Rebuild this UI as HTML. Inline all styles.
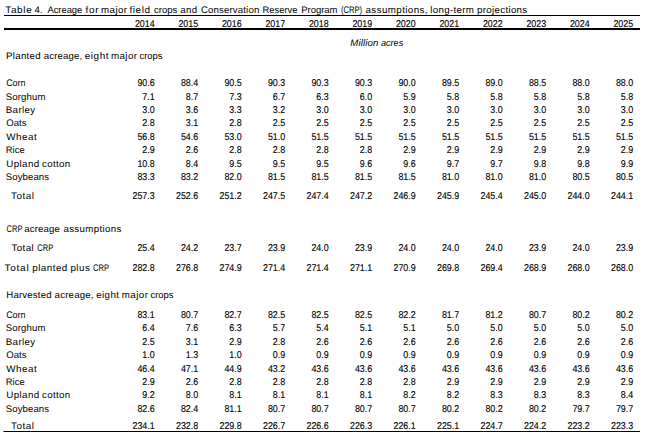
<!DOCTYPE html>
<html><head><meta charset="utf-8"><style>
html,body{margin:0;padding:0;background:#fff;width:646px;height:440px;overflow:hidden}
svg{display:block;text-rendering:geometricPrecision}
.t{font-family:"Liberation Sans",sans-serif;font-size:9.5px;fill:#000;stroke:#000;stroke-width:0.0px}
.n{font-family:"Liberation Sans",sans-serif;font-size:9.9px;fill:#000;stroke:#000;stroke-width:0.12px}
.i{font-family:"Liberation Sans",sans-serif;font-size:9.5px;font-style:italic;fill:#000;stroke:#000;stroke-width:0.0px}
</style></head><body>
<svg width="646" height="440" viewBox="0 0 646 440">
<rect x="4" y="15" width="636" height="1" fill="#000"/><rect x="4" y="28" width="636" height="2" fill="#000"/><rect x="3.4" y="431" width="636.6" height="1" fill="#000"/>
<text transform="translate(5.26,12.70) scale(1.0478,1)" class="t" textLength="25.32" lengthAdjust="spacing">Table</text>
<text transform="translate(34.54,12.70) scale(1.0067,1)" class="t" textLength="8.05" lengthAdjust="spacing">4.</text>
<text x="47.40" y="12.70" class="t" textLength="34.91" lengthAdjust="spacingAndGlyphs">Acreage</text>
<text transform="translate(85.60,12.70) scale(1.0513,1)" class="t" textLength="12.46" lengthAdjust="spacing">for</text>
<text transform="translate(101.09,12.70) scale(1.0262,1)" class="t" textLength="25.23" lengthAdjust="spacing">major</text>
<text transform="translate(129.38,12.70) scale(1.0524,1)" class="t" textLength="19.63" lengthAdjust="spacing">field</text>
<text transform="translate(153.92,12.70) scale(1.0021,1)" class="t" textLength="23.34" lengthAdjust="spacing">crops</text>
<text transform="translate(180.33,12.70) scale(1.0189,1)" class="t" textLength="16.56" lengthAdjust="spacing">and</text>
<text transform="translate(200.97,12.70) scale(1.0122,1)" class="t" textLength="57.58" lengthAdjust="spacing">Conservation</text>
<text x="262.50" y="12.70" class="t" textLength="34.93" lengthAdjust="spacingAndGlyphs">Reserve</text>
<text x="301.22" y="12.70" class="t" textLength="36.29" lengthAdjust="spacingAndGlyphs">Program</text>
<text x="340.89" y="12.70" class="t" textLength="21.14" lengthAdjust="spacingAndGlyphs">(CRP)</text>
<text transform="translate(365.52,12.70) scale(1.0314,1)" class="t" textLength="60.15" lengthAdjust="spacing">assumptions,</text>
<text transform="translate(430.36,12.70) scale(1.0240,1)" class="t" textLength="42.40" lengthAdjust="spacing">long-term</text>
<text transform="translate(477.02,12.70) scale(1.0269,1)" class="t" textLength="48.88" lengthAdjust="spacing">projections</text>
<text transform="translate(154.70,26.80) scale(0.9,1)" class="n" text-anchor="end">2014</text>
<text transform="translate(198.20,26.80) scale(0.9,1)" class="n" text-anchor="end">2015</text>
<text transform="translate(241.70,26.80) scale(0.9,1)" class="n" text-anchor="end">2016</text>
<text transform="translate(285.20,26.80) scale(0.9,1)" class="n" text-anchor="end">2017</text>
<text transform="translate(328.70,26.80) scale(0.9,1)" class="n" text-anchor="end">2018</text>
<text transform="translate(372.20,26.80) scale(0.9,1)" class="n" text-anchor="end">2019</text>
<text transform="translate(415.70,26.80) scale(0.9,1)" class="n" text-anchor="end">2020</text>
<text transform="translate(459.20,26.80) scale(0.9,1)" class="n" text-anchor="end">2021</text>
<text transform="translate(502.70,26.80) scale(0.9,1)" class="n" text-anchor="end">2022</text>
<text transform="translate(546.20,26.80) scale(0.9,1)" class="n" text-anchor="end">2023</text>
<text transform="translate(589.70,26.80) scale(0.9,1)" class="n" text-anchor="end">2024</text>
<text transform="translate(633.20,26.80) scale(0.9,1)" class="n" text-anchor="end">2025</text>
<text transform="translate(350.28,45.60) scale(1.0142,1)" class="i" textLength="27.82" lengthAdjust="spacing">Million</text>
<text x="380.98" y="45.60" class="i" textLength="22.22" lengthAdjust="spacingAndGlyphs">acres</text>
<text transform="translate(6.11,59.30) scale(1.0202,1)" class="t" textLength="33.76" lengthAdjust="spacing">Planted</text>
<text transform="translate(43.69,59.30) scale(1.0129,1)" class="t" textLength="38.10" lengthAdjust="spacing">acreage,</text>
<text transform="translate(84.75,59.30) scale(1.0441,1)" class="t" textLength="22.78" lengthAdjust="spacing">eight</text>
<text transform="translate(111.06,59.30) scale(1.0260,1)" class="t" textLength="25.22" lengthAdjust="spacing">major</text>
<text x="139.56" y="59.30" class="t" textLength="22.96" lengthAdjust="spacingAndGlyphs">crops</text>
<text x="6.15" y="86.20" class="t" textLength="19.41" lengthAdjust="spacingAndGlyphs">Corn</text>
<text transform="translate(154.70,86.20) scale(0.9,1)" class="n" text-anchor="end">90.6</text>
<text transform="translate(198.20,86.20) scale(0.9,1)" class="n" text-anchor="end">88.4</text>
<text transform="translate(241.70,86.20) scale(0.9,1)" class="n" text-anchor="end">90.5</text>
<text transform="translate(285.20,86.20) scale(0.9,1)" class="n" text-anchor="end">90.3</text>
<text transform="translate(328.70,86.20) scale(0.9,1)" class="n" text-anchor="end">90.3</text>
<text transform="translate(372.20,86.20) scale(0.9,1)" class="n" text-anchor="end">90.3</text>
<text transform="translate(415.70,86.20) scale(0.9,1)" class="n" text-anchor="end">90.0</text>
<text transform="translate(459.20,86.20) scale(0.9,1)" class="n" text-anchor="end">89.5</text>
<text transform="translate(502.70,86.20) scale(0.9,1)" class="n" text-anchor="end">89.0</text>
<text transform="translate(546.20,86.20) scale(0.9,1)" class="n" text-anchor="end">88.5</text>
<text transform="translate(589.70,86.20) scale(0.9,1)" class="n" text-anchor="end">88.0</text>
<text transform="translate(633.20,86.20) scale(0.9,1)" class="n" text-anchor="end">88.0</text>
<text transform="translate(5.75,99.90) scale(1.0089,1)" class="t" textLength="39.35" lengthAdjust="spacing">Sorghum</text>
<text transform="translate(154.70,99.90) scale(0.9,1)" class="n" text-anchor="end">7.1</text>
<text transform="translate(198.20,99.90) scale(0.9,1)" class="n" text-anchor="end">8.7</text>
<text transform="translate(241.70,99.90) scale(0.9,1)" class="n" text-anchor="end">7.3</text>
<text transform="translate(285.20,99.90) scale(0.9,1)" class="n" text-anchor="end">6.7</text>
<text transform="translate(328.70,99.90) scale(0.9,1)" class="n" text-anchor="end">6.3</text>
<text transform="translate(372.20,99.90) scale(0.9,1)" class="n" text-anchor="end">6.0</text>
<text transform="translate(415.70,99.90) scale(0.9,1)" class="n" text-anchor="end">5.9</text>
<text transform="translate(459.20,99.90) scale(0.9,1)" class="n" text-anchor="end">5.8</text>
<text transform="translate(502.70,99.90) scale(0.9,1)" class="n" text-anchor="end">5.8</text>
<text transform="translate(546.20,99.90) scale(0.9,1)" class="n" text-anchor="end">5.8</text>
<text transform="translate(589.70,99.90) scale(0.9,1)" class="n" text-anchor="end">5.8</text>
<text transform="translate(633.20,99.90) scale(0.9,1)" class="n" text-anchor="end">5.8</text>
<text transform="translate(5.77,112.80) scale(1.0266,1)" class="t" textLength="28.63" lengthAdjust="spacing">Barley</text>
<text transform="translate(154.70,112.80) scale(0.9,1)" class="n" text-anchor="end">3.0</text>
<text transform="translate(198.20,112.80) scale(0.9,1)" class="n" text-anchor="end">3.6</text>
<text transform="translate(241.70,112.80) scale(0.9,1)" class="n" text-anchor="end">3.3</text>
<text transform="translate(285.20,112.80) scale(0.9,1)" class="n" text-anchor="end">3.2</text>
<text transform="translate(328.70,112.80) scale(0.9,1)" class="n" text-anchor="end">3.0</text>
<text transform="translate(372.20,112.80) scale(0.9,1)" class="n" text-anchor="end">3.0</text>
<text transform="translate(415.70,112.80) scale(0.9,1)" class="n" text-anchor="end">3.0</text>
<text transform="translate(459.20,112.80) scale(0.9,1)" class="n" text-anchor="end">3.0</text>
<text transform="translate(502.70,112.80) scale(0.9,1)" class="n" text-anchor="end">3.0</text>
<text transform="translate(546.20,112.80) scale(0.9,1)" class="n" text-anchor="end">3.0</text>
<text transform="translate(589.70,112.80) scale(0.9,1)" class="n" text-anchor="end">3.0</text>
<text transform="translate(633.20,112.80) scale(0.9,1)" class="n" text-anchor="end">3.0</text>
<text transform="translate(6.23,125.80) scale(1.0015,1)" class="t" textLength="20.13" lengthAdjust="spacing">Oats</text>
<text transform="translate(154.70,125.80) scale(0.9,1)" class="n" text-anchor="end">2.8</text>
<text transform="translate(198.20,125.80) scale(0.9,1)" class="n" text-anchor="end">3.1</text>
<text transform="translate(241.70,125.80) scale(0.9,1)" class="n" text-anchor="end">2.8</text>
<text transform="translate(285.20,125.80) scale(0.9,1)" class="n" text-anchor="end">2.5</text>
<text transform="translate(328.70,125.80) scale(0.9,1)" class="n" text-anchor="end">2.5</text>
<text transform="translate(372.20,125.80) scale(0.9,1)" class="n" text-anchor="end">2.5</text>
<text transform="translate(415.70,125.80) scale(0.9,1)" class="n" text-anchor="end">2.5</text>
<text transform="translate(459.20,125.80) scale(0.9,1)" class="n" text-anchor="end">2.5</text>
<text transform="translate(502.70,125.80) scale(0.9,1)" class="n" text-anchor="end">2.5</text>
<text transform="translate(546.20,125.80) scale(0.9,1)" class="n" text-anchor="end">2.5</text>
<text transform="translate(589.70,125.80) scale(0.9,1)" class="n" text-anchor="end">2.5</text>
<text transform="translate(633.20,125.80) scale(0.9,1)" class="n" text-anchor="end">2.5</text>
<text transform="translate(6.26,140.00) scale(1.0306,1)" class="t" textLength="29.46" lengthAdjust="spacing">Wheat</text>
<text transform="translate(154.70,140.00) scale(0.9,1)" class="n" text-anchor="end">56.8</text>
<text transform="translate(198.20,140.00) scale(0.9,1)" class="n" text-anchor="end">54.6</text>
<text transform="translate(241.70,140.00) scale(0.9,1)" class="n" text-anchor="end">53.0</text>
<text transform="translate(285.20,140.00) scale(0.9,1)" class="n" text-anchor="end">51.0</text>
<text transform="translate(328.70,140.00) scale(0.9,1)" class="n" text-anchor="end">51.5</text>
<text transform="translate(372.20,140.00) scale(0.9,1)" class="n" text-anchor="end">51.5</text>
<text transform="translate(415.70,140.00) scale(0.9,1)" class="n" text-anchor="end">51.5</text>
<text transform="translate(459.20,140.00) scale(0.9,1)" class="n" text-anchor="end">51.5</text>
<text transform="translate(502.70,140.00) scale(0.9,1)" class="n" text-anchor="end">51.5</text>
<text transform="translate(546.20,140.00) scale(0.9,1)" class="n" text-anchor="end">51.5</text>
<text transform="translate(589.70,140.00) scale(0.9,1)" class="n" text-anchor="end">51.5</text>
<text transform="translate(633.20,140.00) scale(0.9,1)" class="n" text-anchor="end">51.5</text>
<text x="5.82" y="152.80" class="t" textLength="18.87" lengthAdjust="spacingAndGlyphs">Rice</text>
<text transform="translate(154.70,152.80) scale(0.9,1)" class="n" text-anchor="end">2.9</text>
<text transform="translate(198.20,152.80) scale(0.9,1)" class="n" text-anchor="end">2.6</text>
<text transform="translate(241.70,152.80) scale(0.9,1)" class="n" text-anchor="end">2.8</text>
<text transform="translate(285.20,152.80) scale(0.9,1)" class="n" text-anchor="end">2.8</text>
<text transform="translate(328.70,152.80) scale(0.9,1)" class="n" text-anchor="end">2.8</text>
<text transform="translate(372.20,152.80) scale(0.9,1)" class="n" text-anchor="end">2.8</text>
<text transform="translate(415.70,152.80) scale(0.9,1)" class="n" text-anchor="end">2.9</text>
<text transform="translate(459.20,152.80) scale(0.9,1)" class="n" text-anchor="end">2.9</text>
<text transform="translate(502.70,152.80) scale(0.9,1)" class="n" text-anchor="end">2.9</text>
<text transform="translate(546.20,152.80) scale(0.9,1)" class="n" text-anchor="end">2.9</text>
<text transform="translate(589.70,152.80) scale(0.9,1)" class="n" text-anchor="end">2.9</text>
<text transform="translate(633.20,152.80) scale(0.9,1)" class="n" text-anchor="end">2.9</text>
<text transform="translate(6.23,166.80) scale(1.0274,1)" class="t" textLength="32.06" lengthAdjust="spacing">Upland</text>
<text transform="translate(41.98,166.80) scale(1.0256,1)" class="t" textLength="27.45" lengthAdjust="spacing">cotton</text>
<text transform="translate(154.70,166.80) scale(0.9,1)" class="n" text-anchor="end">10.8</text>
<text transform="translate(198.20,166.80) scale(0.9,1)" class="n" text-anchor="end">8.4</text>
<text transform="translate(241.70,166.80) scale(0.9,1)" class="n" text-anchor="end">9.5</text>
<text transform="translate(285.20,166.80) scale(0.9,1)" class="n" text-anchor="end">9.5</text>
<text transform="translate(328.70,166.80) scale(0.9,1)" class="n" text-anchor="end">9.5</text>
<text transform="translate(372.20,166.80) scale(0.9,1)" class="n" text-anchor="end">9.6</text>
<text transform="translate(415.70,166.80) scale(0.9,1)" class="n" text-anchor="end">9.6</text>
<text transform="translate(459.20,166.80) scale(0.9,1)" class="n" text-anchor="end">9.7</text>
<text transform="translate(502.70,166.80) scale(0.9,1)" class="n" text-anchor="end">9.7</text>
<text transform="translate(546.20,166.80) scale(0.9,1)" class="n" text-anchor="end">9.8</text>
<text transform="translate(589.70,166.80) scale(0.9,1)" class="n" text-anchor="end">9.8</text>
<text transform="translate(633.20,166.80) scale(0.9,1)" class="n" text-anchor="end">9.9</text>
<text transform="translate(5.75,180.10) scale(1.0075,1)" class="t" textLength="43.00" lengthAdjust="spacing">Soybeans</text>
<text transform="translate(154.70,180.10) scale(0.9,1)" class="n" text-anchor="end">83.3</text>
<text transform="translate(198.20,180.10) scale(0.9,1)" class="n" text-anchor="end">83.2</text>
<text transform="translate(241.70,180.10) scale(0.9,1)" class="n" text-anchor="end">82.0</text>
<text transform="translate(285.20,180.10) scale(0.9,1)" class="n" text-anchor="end">81.5</text>
<text transform="translate(328.70,180.10) scale(0.9,1)" class="n" text-anchor="end">81.5</text>
<text transform="translate(372.20,180.10) scale(0.9,1)" class="n" text-anchor="end">81.5</text>
<text transform="translate(415.70,180.10) scale(0.9,1)" class="n" text-anchor="end">81.5</text>
<text transform="translate(459.20,180.10) scale(0.9,1)" class="n" text-anchor="end">81.0</text>
<text transform="translate(502.70,180.10) scale(0.9,1)" class="n" text-anchor="end">81.0</text>
<text transform="translate(546.20,180.10) scale(0.9,1)" class="n" text-anchor="end">81.0</text>
<text transform="translate(589.70,180.10) scale(0.9,1)" class="n" text-anchor="end">80.5</text>
<text transform="translate(633.20,180.10) scale(0.9,1)" class="n" text-anchor="end">80.5</text>
<text transform="translate(11.06,199.00) scale(1.0389,1)" class="t" textLength="21.94" lengthAdjust="spacing">Total</text>
<text transform="translate(154.70,199.00) scale(0.9,1)" class="n" text-anchor="end">257.3</text>
<text transform="translate(198.20,199.00) scale(0.9,1)" class="n" text-anchor="end">252.6</text>
<text transform="translate(241.70,199.00) scale(0.9,1)" class="n" text-anchor="end">251.2</text>
<text transform="translate(285.20,199.00) scale(0.9,1)" class="n" text-anchor="end">247.5</text>
<text transform="translate(328.70,199.00) scale(0.9,1)" class="n" text-anchor="end">247.4</text>
<text transform="translate(372.20,199.00) scale(0.9,1)" class="n" text-anchor="end">247.2</text>
<text transform="translate(415.70,199.00) scale(0.9,1)" class="n" text-anchor="end">246.9</text>
<text transform="translate(459.20,199.00) scale(0.9,1)" class="n" text-anchor="end">245.9</text>
<text transform="translate(502.70,199.00) scale(0.9,1)" class="n" text-anchor="end">245.4</text>
<text transform="translate(546.20,199.00) scale(0.9,1)" class="n" text-anchor="end">245.0</text>
<text transform="translate(589.70,199.00) scale(0.9,1)" class="n" text-anchor="end">244.0</text>
<text transform="translate(633.20,199.00) scale(0.9,1)" class="n" text-anchor="end">244.1</text>
<text x="6.51" y="232.00" class="t" textLength="16.00" lengthAdjust="spacingAndGlyphs">CRP</text>
<text transform="translate(24.35,232.00) scale(1.0098,1)" class="t" textLength="35.12" lengthAdjust="spacing">acreage</text>
<text transform="translate(63.42,232.00) scale(1.0258,1)" class="t" textLength="56.60" lengthAdjust="spacing">assumptions</text>
<text transform="translate(11.41,251.00) scale(1.0332,1)" class="t" textLength="21.66" lengthAdjust="spacing">Total</text>
<text x="37.26" y="251.00" class="t" textLength="15.92" lengthAdjust="spacingAndGlyphs">CRP</text>
<text transform="translate(154.70,251.00) scale(0.9,1)" class="n" text-anchor="end">25.4</text>
<text transform="translate(198.20,251.00) scale(0.9,1)" class="n" text-anchor="end">24.2</text>
<text transform="translate(241.70,251.00) scale(0.9,1)" class="n" text-anchor="end">23.7</text>
<text transform="translate(285.20,251.00) scale(0.9,1)" class="n" text-anchor="end">23.9</text>
<text transform="translate(328.70,251.00) scale(0.9,1)" class="n" text-anchor="end">24.0</text>
<text transform="translate(372.20,251.00) scale(0.9,1)" class="n" text-anchor="end">23.9</text>
<text transform="translate(415.70,251.00) scale(0.9,1)" class="n" text-anchor="end">24.0</text>
<text transform="translate(459.20,251.00) scale(0.9,1)" class="n" text-anchor="end">24.0</text>
<text transform="translate(502.70,251.00) scale(0.9,1)" class="n" text-anchor="end">24.0</text>
<text transform="translate(546.20,251.00) scale(0.9,1)" class="n" text-anchor="end">23.9</text>
<text transform="translate(589.70,251.00) scale(0.9,1)" class="n" text-anchor="end">24.0</text>
<text transform="translate(633.20,251.00) scale(0.9,1)" class="n" text-anchor="end">23.9</text>
<text transform="translate(4.52,271.00) scale(1.0577,1)" class="t" textLength="22.87" lengthAdjust="spacing">Total</text>
<text transform="translate(32.31,271.00) scale(1.0352,1)" class="t" textLength="33.79" lengthAdjust="spacing">planted</text>
<text transform="translate(70.48,271.00) scale(1.0311,1)" class="t" textLength="18.72" lengthAdjust="spacing">plus</text>
<text x="92.99" y="271.00" class="t" textLength="16.15" lengthAdjust="spacingAndGlyphs">CRP</text>
<text transform="translate(154.70,271.00) scale(0.9,1)" class="n" text-anchor="end">282.8</text>
<text transform="translate(198.20,271.00) scale(0.9,1)" class="n" text-anchor="end">276.8</text>
<text transform="translate(241.70,271.00) scale(0.9,1)" class="n" text-anchor="end">274.9</text>
<text transform="translate(285.20,271.00) scale(0.9,1)" class="n" text-anchor="end">271.4</text>
<text transform="translate(328.70,271.00) scale(0.9,1)" class="n" text-anchor="end">271.4</text>
<text transform="translate(372.20,271.00) scale(0.9,1)" class="n" text-anchor="end">271.1</text>
<text transform="translate(415.70,271.00) scale(0.9,1)" class="n" text-anchor="end">270.9</text>
<text transform="translate(459.20,271.00) scale(0.9,1)" class="n" text-anchor="end">269.8</text>
<text transform="translate(502.70,271.00) scale(0.9,1)" class="n" text-anchor="end">269.4</text>
<text transform="translate(546.20,271.00) scale(0.9,1)" class="n" text-anchor="end">268.9</text>
<text transform="translate(589.70,271.00) scale(0.9,1)" class="n" text-anchor="end">268.0</text>
<text transform="translate(633.20,271.00) scale(0.9,1)" class="n" text-anchor="end">268.0</text>
<text transform="translate(6.30,297.90) scale(1.0135,1)" class="t" textLength="44.68" lengthAdjust="spacing">Harvested</text>
<text transform="translate(54.57,297.90) scale(1.0164,1)" class="t" textLength="38.40" lengthAdjust="spacing">acreage,</text>
<text transform="translate(96.20,297.90) scale(1.0311,1)" class="t" textLength="22.13" lengthAdjust="spacing">eight</text>
<text transform="translate(121.68,297.90) scale(1.0302,1)" class="t" textLength="25.46" lengthAdjust="spacing">major</text>
<text x="150.48" y="297.90" class="t" textLength="23.08" lengthAdjust="spacingAndGlyphs">crops</text>
<text x="6.15" y="317.90" class="t" textLength="19.41" lengthAdjust="spacingAndGlyphs">Corn</text>
<text transform="translate(154.70,317.90) scale(0.9,1)" class="n" text-anchor="end">83.1</text>
<text transform="translate(198.20,317.90) scale(0.9,1)" class="n" text-anchor="end">80.7</text>
<text transform="translate(241.70,317.90) scale(0.9,1)" class="n" text-anchor="end">82.7</text>
<text transform="translate(285.20,317.90) scale(0.9,1)" class="n" text-anchor="end">82.5</text>
<text transform="translate(328.70,317.90) scale(0.9,1)" class="n" text-anchor="end">82.5</text>
<text transform="translate(372.20,317.90) scale(0.9,1)" class="n" text-anchor="end">82.5</text>
<text transform="translate(415.70,317.90) scale(0.9,1)" class="n" text-anchor="end">82.2</text>
<text transform="translate(459.20,317.90) scale(0.9,1)" class="n" text-anchor="end">81.7</text>
<text transform="translate(502.70,317.90) scale(0.9,1)" class="n" text-anchor="end">81.2</text>
<text transform="translate(546.20,317.90) scale(0.9,1)" class="n" text-anchor="end">80.7</text>
<text transform="translate(589.70,317.90) scale(0.9,1)" class="n" text-anchor="end">80.2</text>
<text transform="translate(633.20,317.90) scale(0.9,1)" class="n" text-anchor="end">80.2</text>
<text transform="translate(5.75,331.00) scale(1.0089,1)" class="t" textLength="39.35" lengthAdjust="spacing">Sorghum</text>
<text transform="translate(154.70,331.00) scale(0.9,1)" class="n" text-anchor="end">6.4</text>
<text transform="translate(198.20,331.00) scale(0.9,1)" class="n" text-anchor="end">7.6</text>
<text transform="translate(241.70,331.00) scale(0.9,1)" class="n" text-anchor="end">6.3</text>
<text transform="translate(285.20,331.00) scale(0.9,1)" class="n" text-anchor="end">5.7</text>
<text transform="translate(328.70,331.00) scale(0.9,1)" class="n" text-anchor="end">5.4</text>
<text transform="translate(372.20,331.00) scale(0.9,1)" class="n" text-anchor="end">5.1</text>
<text transform="translate(415.70,331.00) scale(0.9,1)" class="n" text-anchor="end">5.1</text>
<text transform="translate(459.20,331.00) scale(0.9,1)" class="n" text-anchor="end">5.0</text>
<text transform="translate(502.70,331.00) scale(0.9,1)" class="n" text-anchor="end">5.0</text>
<text transform="translate(546.20,331.00) scale(0.9,1)" class="n" text-anchor="end">5.0</text>
<text transform="translate(589.70,331.00) scale(0.9,1)" class="n" text-anchor="end">5.0</text>
<text transform="translate(633.20,331.00) scale(0.9,1)" class="n" text-anchor="end">5.0</text>
<text transform="translate(5.77,345.20) scale(1.0266,1)" class="t" textLength="28.63" lengthAdjust="spacing">Barley</text>
<text transform="translate(154.70,345.20) scale(0.9,1)" class="n" text-anchor="end">2.5</text>
<text transform="translate(198.20,345.20) scale(0.9,1)" class="n" text-anchor="end">3.1</text>
<text transform="translate(241.70,345.20) scale(0.9,1)" class="n" text-anchor="end">2.9</text>
<text transform="translate(285.20,345.20) scale(0.9,1)" class="n" text-anchor="end">2.8</text>
<text transform="translate(328.70,345.20) scale(0.9,1)" class="n" text-anchor="end">2.6</text>
<text transform="translate(372.20,345.20) scale(0.9,1)" class="n" text-anchor="end">2.6</text>
<text transform="translate(415.70,345.20) scale(0.9,1)" class="n" text-anchor="end">2.6</text>
<text transform="translate(459.20,345.20) scale(0.9,1)" class="n" text-anchor="end">2.6</text>
<text transform="translate(502.70,345.20) scale(0.9,1)" class="n" text-anchor="end">2.6</text>
<text transform="translate(546.20,345.20) scale(0.9,1)" class="n" text-anchor="end">2.6</text>
<text transform="translate(589.70,345.20) scale(0.9,1)" class="n" text-anchor="end">2.6</text>
<text transform="translate(633.20,345.20) scale(0.9,1)" class="n" text-anchor="end">2.6</text>
<text transform="translate(6.23,357.90) scale(1.0015,1)" class="t" textLength="20.13" lengthAdjust="spacing">Oats</text>
<text transform="translate(154.70,357.90) scale(0.9,1)" class="n" text-anchor="end">1.0</text>
<text transform="translate(198.20,357.90) scale(0.9,1)" class="n" text-anchor="end">1.3</text>
<text transform="translate(241.70,357.90) scale(0.9,1)" class="n" text-anchor="end">1.0</text>
<text transform="translate(285.20,357.90) scale(0.9,1)" class="n" text-anchor="end">0.9</text>
<text transform="translate(328.70,357.90) scale(0.9,1)" class="n" text-anchor="end">0.9</text>
<text transform="translate(372.20,357.90) scale(0.9,1)" class="n" text-anchor="end">0.9</text>
<text transform="translate(415.70,357.90) scale(0.9,1)" class="n" text-anchor="end">0.9</text>
<text transform="translate(459.20,357.90) scale(0.9,1)" class="n" text-anchor="end">0.9</text>
<text transform="translate(502.70,357.90) scale(0.9,1)" class="n" text-anchor="end">0.9</text>
<text transform="translate(546.20,357.90) scale(0.9,1)" class="n" text-anchor="end">0.9</text>
<text transform="translate(589.70,357.90) scale(0.9,1)" class="n" text-anchor="end">0.9</text>
<text transform="translate(633.20,357.90) scale(0.9,1)" class="n" text-anchor="end">0.9</text>
<text transform="translate(6.26,372.10) scale(1.0306,1)" class="t" textLength="29.46" lengthAdjust="spacing">Wheat</text>
<text transform="translate(154.70,372.10) scale(0.9,1)" class="n" text-anchor="end">46.4</text>
<text transform="translate(198.20,372.10) scale(0.9,1)" class="n" text-anchor="end">47.1</text>
<text transform="translate(241.70,372.10) scale(0.9,1)" class="n" text-anchor="end">44.9</text>
<text transform="translate(285.20,372.10) scale(0.9,1)" class="n" text-anchor="end">43.2</text>
<text transform="translate(328.70,372.10) scale(0.9,1)" class="n" text-anchor="end">43.6</text>
<text transform="translate(372.20,372.10) scale(0.9,1)" class="n" text-anchor="end">43.6</text>
<text transform="translate(415.70,372.10) scale(0.9,1)" class="n" text-anchor="end">43.6</text>
<text transform="translate(459.20,372.10) scale(0.9,1)" class="n" text-anchor="end">43.6</text>
<text transform="translate(502.70,372.10) scale(0.9,1)" class="n" text-anchor="end">43.6</text>
<text transform="translate(546.20,372.10) scale(0.9,1)" class="n" text-anchor="end">43.6</text>
<text transform="translate(589.70,372.10) scale(0.9,1)" class="n" text-anchor="end">43.6</text>
<text transform="translate(633.20,372.10) scale(0.9,1)" class="n" text-anchor="end">43.6</text>
<text x="5.82" y="385.20" class="t" textLength="18.87" lengthAdjust="spacingAndGlyphs">Rice</text>
<text transform="translate(154.70,385.20) scale(0.9,1)" class="n" text-anchor="end">2.9</text>
<text transform="translate(198.20,385.20) scale(0.9,1)" class="n" text-anchor="end">2.6</text>
<text transform="translate(241.70,385.20) scale(0.9,1)" class="n" text-anchor="end">2.8</text>
<text transform="translate(285.20,385.20) scale(0.9,1)" class="n" text-anchor="end">2.8</text>
<text transform="translate(328.70,385.20) scale(0.9,1)" class="n" text-anchor="end">2.8</text>
<text transform="translate(372.20,385.20) scale(0.9,1)" class="n" text-anchor="end">2.8</text>
<text transform="translate(415.70,385.20) scale(0.9,1)" class="n" text-anchor="end">2.8</text>
<text transform="translate(459.20,385.20) scale(0.9,1)" class="n" text-anchor="end">2.9</text>
<text transform="translate(502.70,385.20) scale(0.9,1)" class="n" text-anchor="end">2.9</text>
<text transform="translate(546.20,385.20) scale(0.9,1)" class="n" text-anchor="end">2.9</text>
<text transform="translate(589.70,385.20) scale(0.9,1)" class="n" text-anchor="end">2.9</text>
<text transform="translate(633.20,385.20) scale(0.9,1)" class="n" text-anchor="end">2.9</text>
<text transform="translate(6.23,398.40) scale(1.0274,1)" class="t" textLength="32.06" lengthAdjust="spacing">Upland</text>
<text transform="translate(41.98,398.40) scale(1.0256,1)" class="t" textLength="27.45" lengthAdjust="spacing">cotton</text>
<text transform="translate(154.70,398.40) scale(0.9,1)" class="n" text-anchor="end">9.2</text>
<text transform="translate(198.20,398.40) scale(0.9,1)" class="n" text-anchor="end">8.0</text>
<text transform="translate(241.70,398.40) scale(0.9,1)" class="n" text-anchor="end">8.1</text>
<text transform="translate(285.20,398.40) scale(0.9,1)" class="n" text-anchor="end">8.1</text>
<text transform="translate(328.70,398.40) scale(0.9,1)" class="n" text-anchor="end">8.1</text>
<text transform="translate(372.20,398.40) scale(0.9,1)" class="n" text-anchor="end">8.1</text>
<text transform="translate(415.70,398.40) scale(0.9,1)" class="n" text-anchor="end">8.2</text>
<text transform="translate(459.20,398.40) scale(0.9,1)" class="n" text-anchor="end">8.2</text>
<text transform="translate(502.70,398.40) scale(0.9,1)" class="n" text-anchor="end">8.3</text>
<text transform="translate(546.20,398.40) scale(0.9,1)" class="n" text-anchor="end">8.3</text>
<text transform="translate(589.70,398.40) scale(0.9,1)" class="n" text-anchor="end">8.3</text>
<text transform="translate(633.20,398.40) scale(0.9,1)" class="n" text-anchor="end">8.4</text>
<text transform="translate(5.75,412.20) scale(1.0075,1)" class="t" textLength="43.00" lengthAdjust="spacing">Soybeans</text>
<text transform="translate(154.70,412.20) scale(0.9,1)" class="n" text-anchor="end">82.6</text>
<text transform="translate(198.20,412.20) scale(0.9,1)" class="n" text-anchor="end">82.4</text>
<text transform="translate(241.70,412.20) scale(0.9,1)" class="n" text-anchor="end">81.1</text>
<text transform="translate(285.20,412.20) scale(0.9,1)" class="n" text-anchor="end">80.7</text>
<text transform="translate(328.70,412.20) scale(0.9,1)" class="n" text-anchor="end">80.7</text>
<text transform="translate(372.20,412.20) scale(0.9,1)" class="n" text-anchor="end">80.7</text>
<text transform="translate(415.70,412.20) scale(0.9,1)" class="n" text-anchor="end">80.7</text>
<text transform="translate(459.20,412.20) scale(0.9,1)" class="n" text-anchor="end">80.2</text>
<text transform="translate(502.70,412.20) scale(0.9,1)" class="n" text-anchor="end">80.2</text>
<text transform="translate(546.20,412.20) scale(0.9,1)" class="n" text-anchor="end">80.2</text>
<text transform="translate(589.70,412.20) scale(0.9,1)" class="n" text-anchor="end">79.7</text>
<text transform="translate(633.20,412.20) scale(0.9,1)" class="n" text-anchor="end">79.7</text>
<text transform="translate(11.06,429.00) scale(1.0389,1)" class="t" textLength="21.94" lengthAdjust="spacing">Total</text>
<text transform="translate(154.70,429.00) scale(0.9,1)" class="n" text-anchor="end">234.1</text>
<text transform="translate(198.20,429.00) scale(0.9,1)" class="n" text-anchor="end">232.8</text>
<text transform="translate(241.70,429.00) scale(0.9,1)" class="n" text-anchor="end">229.8</text>
<text transform="translate(285.20,429.00) scale(0.9,1)" class="n" text-anchor="end">226.7</text>
<text transform="translate(328.70,429.00) scale(0.9,1)" class="n" text-anchor="end">226.6</text>
<text transform="translate(372.20,429.00) scale(0.9,1)" class="n" text-anchor="end">226.3</text>
<text transform="translate(415.70,429.00) scale(0.9,1)" class="n" text-anchor="end">226.1</text>
<text transform="translate(459.20,429.00) scale(0.9,1)" class="n" text-anchor="end">225.1</text>
<text transform="translate(502.70,429.00) scale(0.9,1)" class="n" text-anchor="end">224.7</text>
<text transform="translate(546.20,429.00) scale(0.9,1)" class="n" text-anchor="end">224.2</text>
<text transform="translate(589.70,429.00) scale(0.9,1)" class="n" text-anchor="end">223.2</text>
<text transform="translate(633.20,429.00) scale(0.9,1)" class="n" text-anchor="end">223.3</text>
</svg>
</body></html>
